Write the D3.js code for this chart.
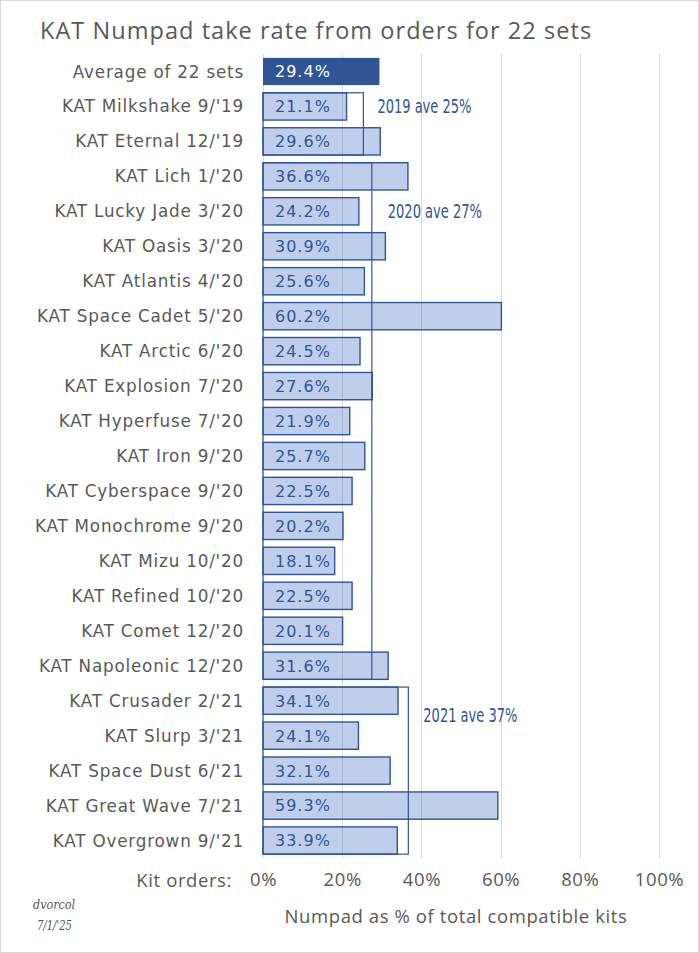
<!DOCTYPE html>
<html><head><meta charset="utf-8">
<script src="https://cdn.jsdelivr.net/npm/d3@7"></script>
<style>
html,body{margin:0;padding:0;background:#fff;}
svg{display:block;}
</style></head>
<body>
<script>
const categories = ["Average of 22 sets","KAT Milkshake 9/'19","KAT Eternal 12/'19","KAT Lich 1/'20","KAT Lucky Jade 3/'20","KAT Oasis 3/'20","KAT Atlantis 4/'20","KAT Space Cadet 5/'20","KAT Arctic 6/'20","KAT Explosion 7/'20","KAT Hyperfuse 7/'20","KAT Iron 9/'20","KAT Cyberspace 9/'20","KAT Monochrome 9/'20","KAT Mizu 10/'20","KAT Refined 10/'20","KAT Comet 12/'20","KAT Napoleonic 12/'20","KAT Crusader 2/'21","KAT Slurp 3/'21","KAT Space Dust 6/'21","KAT Great Wave 7/'21","KAT Overgrown 9/'21"];
const values = [29.4,21.1,29.6,36.6,24.2,30.9,25.6,60.2,24.5,27.6,21.9,25.7,22.5,20.2,18.1,22.5,20.1,31.6,34.1,24.1,32.1,59.3,33.9];
const tickValues = [0,20,40,60,80,100];
const groupLabels = ["2019 ave 25%","2020 ave 27%","2021 ave 37%"];
const groupFirst = [1,3,18];
const groupLast = [2,17,22];

const W = 699, H = 953;
const x0 = 263, x1 = 659, yTop = 54, yBot = 858;
const dark = "#2f5597";
const grey = "#595959";

const svg = d3.select("body").append("svg").attr("width", W).attr("height", H);
svg.append("rect").attr("x",0.5).attr("y",0.5).attr("width",W-1).attr("height",H-1)
  .attr("fill","#fff").attr("stroke","#d9d9d9");

const x = d3.scaleLinear().domain([0,100]).range([x0,x1]);
const y = d3.scaleBand().domain(categories).range([yTop,yBot]).paddingInner(0.22).paddingOuter(0.11);

// title
svg.append("text").attr("x",40).attr("y",38.5)
  .attr("font-family","'Open Sans', sans-serif").attr("font-size",23.5).attr("letter-spacing",1.05).attr("fill",grey)
  .text("KAT Numpad take rate from orders for 22 sets");

// gridlines
svg.append("g").selectAll("line").data(tickValues).join("line")
  .attr("x1",d=>Math.round(x(d))+0.5).attr("x2",d=>Math.round(x(d))+0.5)
  .attr("y1",yTop).attr("y2",yBot).attr("stroke","#d9d9d9").attr("stroke-width",1);

// tick labels via axis
const ax = svg.append("g").attr("transform",`translate(0,${yBot})`)
  .call(d3.axisBottom(x).tickValues(tickValues).tickFormat(d=>d+"%").tickSize(0).tickPadding(15));
ax.select(".domain").remove();
ax.selectAll("text").attr("font-family","'Open Sans', sans-serif").attr("font-size",18.5).attr("letter-spacing",0.6).attr("fill",grey);

svg.append("text").attr("x",232).attr("y",886.5).attr("text-anchor","end")
  .attr("font-family","'Open Sans', sans-serif").attr("font-size",18.5).attr("letter-spacing",0.6).attr("fill",grey)
  .text("Kit orders:");
svg.append("text").attr("x",456).attr("y",922.5).attr("text-anchor","middle")
  .attr("font-family","'Open Sans', sans-serif").attr("font-size",18.5).attr("letter-spacing",0.6).attr("fill",grey)
  .text("Numpad as % of total compatible kits");

// signature
svg.append("text").attr("x",33).attr("y",909).attr("font-family","'DejaVu Serif', serif").attr("font-style","italic")
  .attr("font-size",12).attr("fill","#555").attr("textLength",42).attr("lengthAdjust","spacingAndGlyphs").text("dvorcol");
svg.append("text").attr("x",37).attr("y",930).attr("font-family","'DejaVu Serif', serif").attr("font-style","italic")
  .attr("font-size",12).attr("fill","#555").attr("textLength",35).attr("lengthAdjust","spacingAndGlyphs").text("7/1/'25");

// category labels
svg.append("g").selectAll("text").data(categories).join("text")
  .attr("x",244).attr("y",d=>y(d)+y.bandwidth()/2).attr("dy","0.36em").attr("text-anchor","end")
  .attr("font-family","'DejaVu Sans', sans-serif").attr("font-size",16.8).attr("letter-spacing",0.8)
  .attr("fill",grey).text(d=>d);

// bars
const data = categories.map((c,i)=>({c, v: values[i], i}));
svg.append("g").selectAll("rect").data(data).join("rect")
  .attr("x",x(0)).attr("y",d=>y(d.c)).attr("width",d=>x(d.v)-x(0)).attr("height",y.bandwidth())
  .attr("fill",d=>d.i===0?dark:"rgba(68,114,196,0.34)")
  .attr("stroke",d=>d.i===0?"none":dark).attr("stroke-width",1.4);

// group average boxes
const groups = groupLabels.map((l,k)=>{
  const vs = values.slice(groupFirst[k], groupLast[k]+1);
  return {label:l, avg:d3.mean(vs), first:categories[groupFirst[k]], last:categories[groupLast[k]]};
});
svg.append("g").selectAll("rect").data(groups).join("rect")
  .attr("x",x(0)).attr("y",d=>y(d.first)).attr("width",d=>x(d.avg)-x(0))
  .attr("height",d=>y(d.last)+y.bandwidth()-y(d.first))
  .attr("fill","none").attr("stroke",dark).attr("stroke-width",1.2);

const labelDx = [14,16,15];
const labelRowOff = [0,1,0.4];
svg.append("g").selectAll("text").data(groups).join("text")
  .attr("x",(d,k)=>x(d.avg)+labelDx[k])
  .attr("y",(d,k)=>y(d.first)+y.bandwidth()/2+labelRowOff[k]*y.step())
  .attr("dy","0.36em")
  .attr("font-family","'Liberation Sans Narrow','DejaVu Sans Condensed', sans-serif").attr("font-stretch","condensed")
  .attr("font-size",19.5).attr("fill",dark)
  .attr("textLength",94).attr("lengthAdjust","spacingAndGlyphs")
  .text(d=>d.label);

// value labels
svg.append("g").selectAll("text").data(data).join("text")
  .attr("x",275).attr("y",d=>y(d.c)+y.bandwidth()/2).attr("dy","0.37em")
  .attr("font-family","'DejaVu Sans', sans-serif").attr("font-size",16).attr("letter-spacing",1)
  .attr("fill",d=>d.i===0?"#ffffff":dark).text(d=>d.v.toFixed(1)+"%");
</script>
</body></html>
